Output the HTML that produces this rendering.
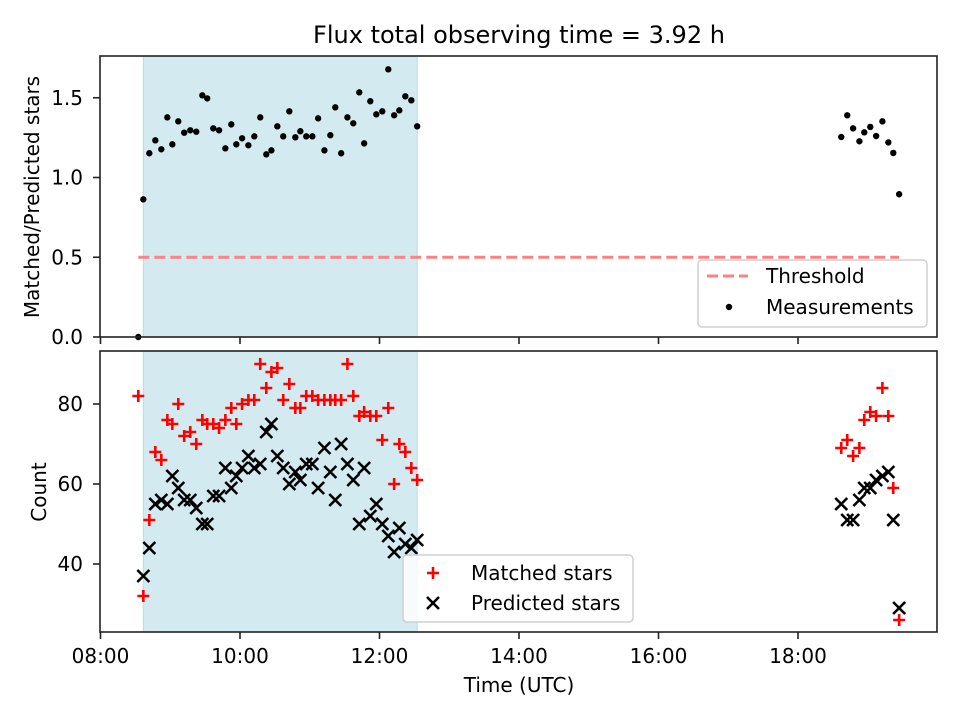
<!DOCTYPE html>
<html><head><meta charset="utf-8"><style>
body{margin:0;background:#fff}
svg{display:block;font-family:"DejaVu Sans","Liberation Sans",sans-serif}
</style></head><body>
<svg id="chart" width="960" height="720" viewBox="0 0 960 720" xmlns="http://www.w3.org/2000/svg"></svg>
<script>
const timesL = [8.542,8.614,8.70,8.786,8.872,8.958,9.03,9.115,9.20,9.287,9.373,9.46,9.53,9.617,9.70,9.79,9.875,9.947,10.03,10.12,10.205,10.29,10.377,10.45,10.535,10.62,10.707,10.793,10.865,10.95,11.037,11.12,11.21,11.295,11.366,11.45,11.54,11.624,11.71,11.78,11.868,11.954,12.04,12.126,12.21,12.284,12.37,12.456,12.54];
const ratioL = [0.0,0.863,1.152,1.233,1.177,1.377,1.208,1.352,1.281,1.296,1.287,1.515,1.496,1.308,1.296,1.183,1.333,1.208,1.246,1.202,1.258,1.377,1.145,1.170,1.321,1.258,1.415,1.252,1.29,1.258,1.258,1.371,1.170,1.265,1.44,1.152,1.377,1.34,1.534,1.214,1.478,1.396,1.415,1.678,1.39,1.421,1.509,1.484,1.321];
const matchedL = [82,32,51,68,66,76,75,80,72,73,70,76,75,75,74,76,79,75,80,81,81,90,84,88,89,81,85,79,79,82,82,81,81,81,81,81,90,82,77,78,77,77,71,79,60,70,68,64,61];
const predictedL = [null,37,44,55,56,55,62,59,56,56,54,50,50,57,57,64,59,62,64,67,64,65,73,75,67,64,60,63,61,65,65,59,69,63,56,70,65,61,50,64,52,55,50,47,43,49,45,44,46];
const timesR = [18.62,18.706,18.79,18.88,18.95,19.036,19.12,19.21,19.295,19.366,19.45];
const ratioR = [1.254,1.39,1.308,1.227,1.283,1.317,1.26,1.352,1.22,1.154,0.895];
const matchedR = [69,71,67,69,76,78,77,84,77,59,26];
const predictedR = [55,51,51,56,59,59,61,62,63,51,29];
const xTicks = [8,10,12,14,16,18];
const xTickLabels = ["08:00","10:00","12:00","14:00","16:00","18:00"];
const topTicks = [0,0.5,1.0,1.5];
const botTicks = [40,60,80];
const threshold = 0.5;
const shadeStart = 8.614, shadeEnd = 12.54;

const NS="http://www.w3.org/2000/svg";
const svg=document.getElementById('chart');
function mk(tag,attrs,parent){const e=document.createElementNS(NS,tag);for(const k in attrs)e.setAttribute(k,attrs[k]);(parent||svg).appendChild(e);return e;}
const L=100,R=937;
const xs=t=>100.5+(t-8)*69.75;
const yT=v=>337-v*159.5;
const yB=c=>404-(c-80)*4;
const T1=56,B1=337,T2=351,B2=632;
const FS=20;

[[T1,B1],[T2,B2]].forEach((p,i)=>{
 const r=mk('rect',{x:xs(shadeStart),y:p[0],width:xs(shadeEnd)-xs(shadeStart),height:p[1]-p[0],fill:'#d4eaf1',stroke:'#b9dce8','stroke-width':1});
 
 
});
const th=mk('line',{x1:xs(8.542),x2:xs(19.45),y1:yT(threshold),y2:yT(threshold),stroke:'#ff8080','stroke-width':3,'stroke-dasharray':'11,5'});


timesL.concat(timesR).forEach((t,i)=>{
 const v=ratioL.concat(ratioR)[i];
 const c=mk('circle',{cx:xs(t),cy:yT(v),r:3.2,fill:'#000'});
 
 
});
function plus(x,y,p){const g=mk('path',{d:`M${x-6},${y}H${x+6}M${x},${y-6}V${y+6}`,stroke:'#f00','stroke-width':2.6,fill:'none'},p);}
function cross(x,y,p){const g=mk('path',{d:`M${x-6},${y-6}L${x+6},${y+6}M${x-6},${y+6}L${x+6},${y-6}`,stroke:'#000','stroke-width':2.6,fill:'none'},p);}
const allT=timesL.concat(timesR), allM=matchedL.concat(matchedR), allP=predictedL.concat(predictedR);
allT.forEach((t,i)=>{ if(allM[i]!=null) plus(xs(t),yB(allM[i])); });
allT.forEach((t,i)=>{ if(allP[i]!=null) cross(xs(t),yB(allP[i])); });

[[T1,B1,'top-axes'],[T2,B2,'bottom-axes']].forEach(p=>{
 const r=mk('rect',{x:L,y:p[0],width:R-L,height:p[1]-p[0],fill:'none',stroke:'#222','stroke-width':1.6});
 
 
 xTicks.forEach(t=>{mk('line',{x1:xs(t),x2:xs(t),y1:p[1],y2:p[1]+7,stroke:'#222','stroke-width':1.6});});
});
function txt(s,attrs,name){const e=mk('text',attrs);e.textContent=s;return e;}
xTicks.forEach((t,i)=>{
 txt(xTickLabels[i],{x:xs(t),y:663,'text-anchor':'middle','font-size':FS},'x-tick-label');
});
topTicks.forEach(v=>{
 mk('line',{x1:L-7,x2:L,y1:yT(v),y2:yT(v),stroke:'#222','stroke-width':1.6});
 txt(v.toFixed(1),{x:83,y:yT(v)+7,'text-anchor':'end','font-size':FS},'top-y-tick-label');
});
botTicks.forEach(v=>{
 mk('line',{x1:L-7,x2:L,y1:yB(v),y2:yB(v),stroke:'#222','stroke-width':1.6});
 txt(String(v),{x:83,y:yB(v)+7,'text-anchor':'end','font-size':FS},'bottom-y-tick-label');
});
txt('Flux total observing time = 3.92 h',{x:519,y:43,'text-anchor':'middle','font-size':24},'chart-title');
txt('Time (UTC)',{x:519,y:692,'text-anchor':'middle','font-size':FS},'x-axis-title');
txt('Matched/Predicted stars',{x:0,y:0,'text-anchor':'middle','font-size':FS,transform:'translate(39,197) rotate(-90)'},'top-y-axis-title');
txt('Count',{x:0,y:0,'text-anchor':'middle','font-size':FS,transform:'translate(46,492) rotate(-90)'},'bottom-y-axis-title');

const lg1=mk('g',{});
mk('rect',{x:698,y:260,width:229,height:67,rx:4,fill:'#fff','fill-opacity':0.8,stroke:'#d0d0d0','stroke-width':1.5},lg1);
mk('line',{x1:707,x2:748,y1:276,y2:276,stroke:'#ff8080','stroke-width':3,'stroke-dasharray':'11,5'},lg1);
mk('circle',{cx:729,cy:307,r:3.2,fill:'#000'},lg1);
const a=mk('text',{x:766,y:283,'font-size':FS},lg1);a.textContent='Threshold';
const b=mk('text',{x:766,y:314,'font-size':FS},lg1);b.textContent='Measurements';
const lg2=mk('g',{});
mk('rect',{x:403,y:555,width:230,height:67,rx:4,fill:'#fff','fill-opacity':0.8,stroke:'#d0d0d0','stroke-width':1.5},lg2);
plus(433,573,lg2);
cross(433,603,lg2);
const c1=mk('text',{x:471,y:580,'font-size':FS},lg2);c1.textContent='Matched stars';
const c2=mk('text',{x:471,y:610,'font-size':FS},lg2);c2.textContent='Predicted stars';
</script>
</body></html>
